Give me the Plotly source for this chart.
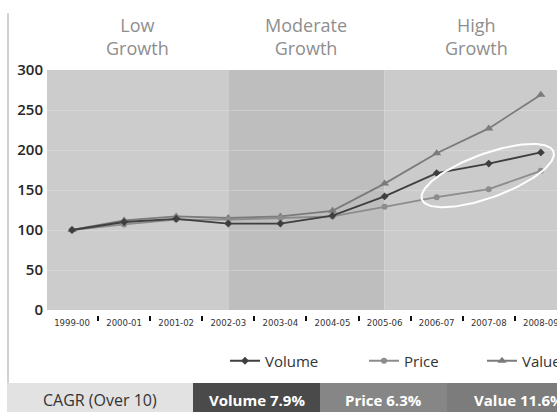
import numpy as np
import plotly.graph_objects as go

# Fiscal years on the category axis
years = ["1999-00", "2000-01", "2001-02", "2002-03", "2003-04",
         "2004-05", "2005-06", "2006-07", "2007-08", "2008-09"]

# Index values (1999-00 = 100)
volume = [100, 110, 114, 108, 108, 118, 142, 171, 183, 197]
price = [100, 107, 113, 113, 115, 117, 129, 141, 151, 174]
value = [100, 112, 117, 115, 117, 124, 158, 196, 227, 269]

# Growth phases: (label, start index, end index)
phases = [("Low<br>Growth", -0.48, 3),
          ("Moderate<br>Growth", 3, 6),
          ("High<br>Growth", 6, 10)]
phase_label_x = [1.26, 4.5, 7.76]

# CAGR summary strip
cagr_labels = ["CAGR (Over 10)", "Volume 7.9%", "Price 6.3%", "Value 11.6%"]

W, H = 557, 412
ML, MR, MT, MB = 47, 0, 70, 97
plot_w = W - ML - MR
plot_h = H - MT - MB
x_range = [-0.48, 9.31]
y_range = [0, 300]

x = list(range(len(years)))

fig = go.Figure()

series = [
    ("Volume", volume, "#3f3f3f", dict(symbol="diamond", size=6), "legend"),
    ("Price", price, "#8c8c8c", dict(symbol="circle", size=6), "legend2"),
    ("Value", value, "#7b7b7b", dict(symbol="triangle-up", size=8), "legend3"),
]
for name, ys, col, mk, lg in reversed(series):
    fig.add_trace(go.Scatter(
        x=x, y=ys, name=name, mode="lines+markers",
        line=dict(color=col, width=1.8),
        marker=dict(color=col, **mk),
        legend=lg, hoverinfo="skip",
    ))

# Highlight ellipse around the latest Volume / Price points
px_per_x = plot_w / (x_range[1] - x_range[0])
px_per_y = (plot_h - 5) / (y_range[1] - y_range[0])
cx, cy = 7.98, 168
a_px, b_px, theta = 70, 22, np.deg2rad(20)
t = np.linspace(0, 2 * np.pi, 120)
ex = cx + (a_px * np.cos(t) * np.cos(theta) - b_px * np.sin(t) * np.sin(theta)) / px_per_x
ey = cy + (a_px * np.cos(t) * np.sin(theta) + b_px * np.sin(t) * np.cos(theta)) / px_per_y
fig.add_trace(go.Scatter(x=ex, y=ey, mode="lines", line=dict(color="white", width=2),
                         showlegend=False, hoverinfo="skip"))

shapes = []
band_colors = ["#cccccc", "#bebebe", "#cbcbcb"]
for (lab, x0, x1), col in zip(phases, band_colors):
    shapes.append(dict(type="rect", xref="x", yref="y", x0=x0, x1=x1, y0=0, y1=300,
                       fillcolor=col, line=dict(width=0), layer="below"))

def px_x(p):
    return (p - ML) / plot_w

def px_y(p):
    return (MT + plot_h - p) / plot_h

# Left border rule
shapes.append(dict(type="line", xref="paper", yref="paper",
                   x0=px_x(8), x1=px_x(8), y0=px_y(13), y1=px_y(383),
                   line=dict(color="#d2d2d2", width=2)))

# CAGR strip segments
seg_edges = [7, 193, 320, 447, 600]
seg_colors = ["#e2e2e2", "#4a4a4a", "#868686", "#7c7c7c"]
for i, col in enumerate(seg_colors):
    shapes.append(dict(type="rect", xref="paper", yref="paper",
                       x0=px_x(seg_edges[i]), x1=px_x(seg_edges[i + 1]),
                       y0=px_y(415), y1=px_y(383),
                       fillcolor=col, line=dict(width=0), layer="above"))

annotations = []
for (lab, _, _), lx in zip(phases, phase_label_x):
    annotations.append(dict(text=lab, xref="x", yref="paper", x=lx, y=px_y(37),
                            yanchor="middle", showarrow=False, align="center",
                            font=dict(family="Open Sans", size=18, color="#8e8e8e")))

seg_text_x = [100, 257, 383, 472]
for i, lab in enumerate(cagr_labels):
    if i == 0:
        f = dict(family="Open Sans", size=16, color="#333333")
        xa = "center"
    else:
        f = dict(family="Open Sans", size=15, color="white", weight="bold")
        xa = "left" if i == 3 else "center"
    annotations.append(dict(text=lab, xref="paper", yref="paper",
                            x=px_x(seg_text_x[i]), y=px_y(400),
                            xanchor=xa, yanchor="middle", showarrow=False, font=f))

legend_font = dict(family="Open Sans", size=15, color="#333333")
def leg(xpx):
    return dict(orientation="h", xref="container", yref="container",
                x=xpx / W, y=1 - 361 / H, xanchor="left", yanchor="middle",
                bgcolor="rgba(0,0,0,0)", font=legend_font, borderwidth=0)

fig.update_layout(
    width=W, height=H,
    margin=dict(l=ML, r=MR, t=MT, b=MB, autoexpand=False),
    paper_bgcolor="white", plot_bgcolor="rgba(0,0,0,0)",
    showlegend=True,
    legend=leg(225), legend2=leg(364), legend3=leg(482),
    shapes=shapes, annotations=annotations,
    xaxis=dict(range=x_range, anchor="free", position=0,
               tickmode="array", tickvals=x, ticktext=years,
               ticks="", showgrid=False, zeroline=False, showline=False,
               ticklabeloverflow="allow",
               tickfont=dict(family="DejaVu Sans Condensed, DejaVu Sans, sans-serif",
                             size=9.5, color="#333333"),
               minor=dict(tickmode="array", tickvals=[i + 0.5 for i in range(9)],
                          ticks="outside", ticklen=5, tickwidth=2, tickcolor="#111111",
                          showgrid=False)),
    yaxis=dict(range=y_range, domain=[5 / plot_h, 1],
               tickvals=[0, 50, 100, 150, 200, 250, 300],
               ticks="", showline=False, zeroline=False, ticklabelstandoff=3,
               showgrid=True, gridcolor="rgba(255,255,255,0.22)", gridwidth=1,
               tickfont=dict(family="Open Sans", size=15, color="#262626", weight=600)),
)

fig.write_html("out.html")
